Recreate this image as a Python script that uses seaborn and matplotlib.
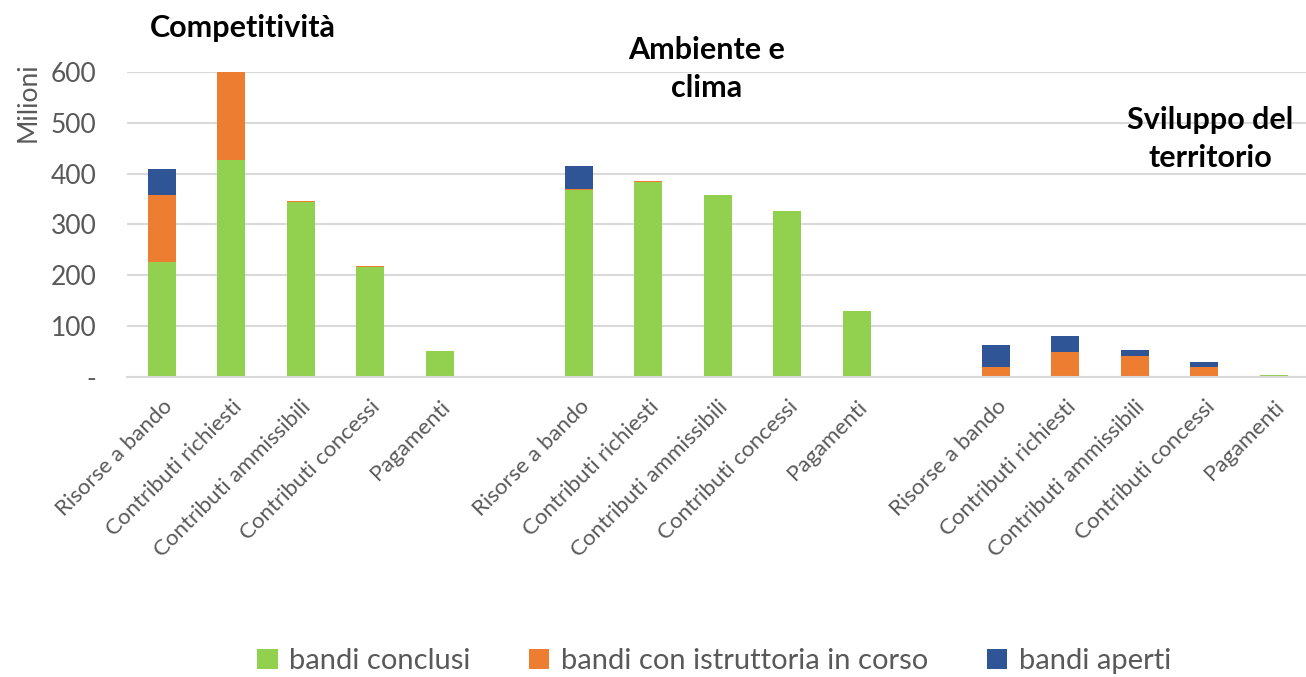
import matplotlib
matplotlib.use("Agg")
import matplotlib.pyplot as plt
import seaborn as sns
import pandas as pd
import numpy as np
from matplotlib.patches import Patch

# ---- data (millions) ----
groups = ["Competitività", "Ambiente e\nclima", "Sviluppo del\nterritorio"]
categories = ["Risorse a bando", "Contributi richiesti", "Contributi ammissibili",
              "Contributi concessi", "Pagamenti"]
series_names = ["bandi conclusi", "bandi con istruttoria in corso", "bandi aperti"]

conclusi_comp = [227, 426, 345, 216, 51]
istruttoria_comp = [132, 174, 2, 2, 0]
aperti_comp = [50, 0, 0, 0, 0]

conclusi_amb = [368, 384, 358, 326, 130]
istruttoria_amb = [1, 2, 0, 0, 0]
aperti_amb = [46, 0, 0, 0, 0]

conclusi_svi = [0, 0, 0, 0, 4]
istruttoria_svi = [19, 50, 41, 19, 0]
aperti_svi = [43, 31, 12, 11, 0]

yticks = [0, 100, 200, 300, 400, 500, 600]
ytick_labels = ["-", "100", "200", "300", "400", "500", "600"]

colors = {"bandi conclusi": "#92D050",
          "bandi con istruttoria in corso": "#ED7D31",
          "bandi aperti": "#2F5597"}

# ---- build table (with an empty slot between groups) ----
rows = []
per_group = [(conclusi_comp, istruttoria_comp, aperti_comp),
             (conclusi_amb, istruttoria_amb, aperti_amb),
             (conclusi_svi, istruttoria_svi, aperti_svi)]
slot_labels = []
for gi, (c, i_, a) in enumerate(per_group):
    for ci, cat in enumerate(categories):
        key = f"g{gi}_{ci}"
        rows.append(dict(slot=key, conclusi=c[ci], istruttoria=i_[ci], aperti=a[ci]))
        slot_labels.append(cat)
    if gi < len(per_group) - 1:
        key = f"gap{gi}"
        rows.append(dict(slot=key, conclusi=0, istruttoria=0, aperti=0))
        slot_labels.append("")
df = pd.DataFrame(rows)
df["lvl2"] = df["conclusi"] + df["istruttoria"]
df["lvl3"] = df["lvl2"] + df["aperti"]
order = list(df["slot"])

# ---- style ----
sns.set_theme(style="white")
plt.rcParams["font.family"] = ["Lato", "DejaVu Sans"]

fig = plt.figure(figsize=(13.06, 6.77), dpi=100)
ax = fig.add_axes([127 / 1306, 1 - 377 / 677, 1 - 127 / 1306 + 0.002, (377 - 72) / 677])

bw = 0.4
sns.barplot(data=df, x="slot", y="lvl3", order=order, color=colors["bandi aperti"],
            width=bw, saturation=1, ax=ax, errorbar=None, linewidth=0)
sns.barplot(data=df, x="slot", y="lvl2", order=order, color=colors["bandi con istruttoria in corso"],
            width=bw, saturation=1, ax=ax, errorbar=None, linewidth=0)
sns.barplot(data=df, x="slot", y="conclusi", order=order, color=colors["bandi conclusi"],
            width=bw, saturation=1, ax=ax, errorbar=None, linewidth=0)

ax.set_ylim(0, 600)
ax.set_xlim(-0.5, len(order) - 0.5)
ax.set_yticks(yticks)
ax.set_yticklabels(ytick_labels, fontsize=19, color="#595959")
ax.yaxis.grid(True, color="#D9D9D9", linewidth=1.5)
ax.set_axisbelow(True)
for s in ["top", "right", "left"]:
    ax.spines[s].set_visible(False)
ax.spines["bottom"].set_color("#D9D9D9")
ax.spines["bottom"].set_linewidth(1.5)
ax.tick_params(axis="y", length=0, pad=22)
ax.tick_params(axis="x", length=0, pad=14)

ax.set_xticks(range(len(order)))
ax.set_xticklabels(slot_labels, rotation=45, ha="right", rotation_mode="anchor",
                   fontsize=16, color="#595959")
ax.set_xlabel("")
ax.set_ylabel("")

fig.text(28 / 1306, 1 - 102 / 677, "Milioni", rotation=90, ha="center", va="center",
         fontsize=19, color="#595959")

# group titles
title_pos = [(1.17, 687), (7.84, 606), (15.08, 468)]
for g, (x, y) in zip(groups, title_pos):
    ax.text(x, y, g, ha="center", va="center", fontsize=22, fontweight="bold",
            color="black", clip_on=False, linespacing=1.42)

handles = [Patch(facecolor=colors[n], edgecolor="none") for n in series_names]
fig.legend(handles, series_names, loc="center", bbox_to_anchor=(714 / 1306, 1 - 661 / 677),
           ncol=3, frameon=False, fontsize=21, handlelength=0.7, handleheight=0.7,
           handletextpad=0.4, columnspacing=2.0, labelcolor="#595959")

fig.savefig("out.png", dpi=100)
